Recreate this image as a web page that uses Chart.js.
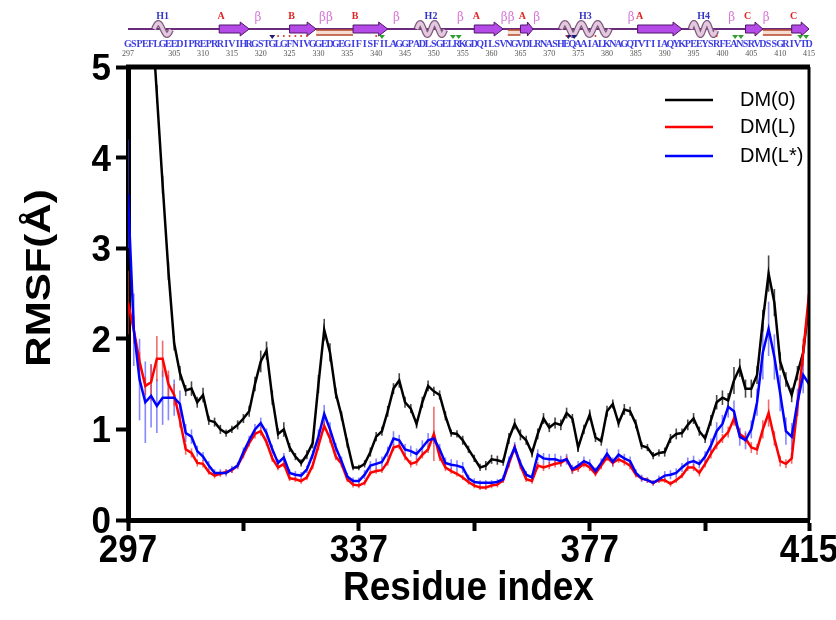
<!DOCTYPE html>
<html>
<head>
<meta charset="utf-8">
<script src="https://cdn.jsdelivr.net/npm/chart.js@4.4.0/dist/chart.umd.min.js"></script>
<style>
html, body { margin: 0; padding: 0; background: #fff; }
</style>
</head>
<body>
<canvas id="chartRmsf" width="836" height="620"></canvas>
<script>
// residuos 297..415
var residuos = [];
for (var r = 297; r <= 415; r++) residuos.push(r);

var xTicks = [297, 317, 337, 357, 377, 397, 415];
var xLabels = [297, 337, 377, 415];
var yTicks = [0, 1, 2, 3, 4, 5];

// RMSF DM(0)
var rmsf0 = [
  9.50, 8.60, 7.60, 6.70, 5.70, 4.70, 3.70, 2.75, 1.95, 1.62,
  1.43, 1.45, 1.30, 1.38, 1.10, 1.08, 1.00, 0.96, 1.00, 1.05,
  1.12, 1.20, 1.50, 1.75, 1.87, 1.35, 0.95, 1.00, 0.80, 0.70,
  0.63, 0.72, 0.85, 1.50, 2.10, 1.85, 1.40, 1.15, 0.85, 0.58,
  0.58, 0.62, 0.75, 0.92, 0.98, 1.20, 1.45, 1.54, 1.30, 1.23,
  1.06, 1.30, 1.48, 1.42, 1.38, 1.15, 0.96, 0.95, 0.88, 0.78,
  0.68, 0.58, 0.60, 0.67, 0.66, 0.64, 0.90, 1.06, 0.94, 0.88,
  0.74, 0.95, 1.12, 1.02, 1.07, 1.05, 1.18, 1.12, 0.80, 1.00,
  1.16, 0.91, 0.87, 1.20, 1.28, 1.07, 1.22, 1.20, 1.06, 0.82,
  0.80, 0.71, 0.74, 0.75, 0.90, 0.95, 0.96, 1.05, 1.12, 0.98,
  0.90, 1.10, 1.30, 1.35, 1.32, 1.54, 1.68, 1.45, 1.45, 1.60,
  2.20, 2.72, 2.40, 1.75, 1.55, 1.38, 1.62, 1.85, 2.40
];
var err0 = [
  0.15, 0.15, 0.15, 0.15, 0.15, 0.10, 0.10, 0.10, 0.08, 0.08,
  0.06, 0.08, 0.06, 0.08, 0.05, 0.05, 0.05, 0.04, 0.04, 0.05,
  0.05, 0.06, 0.08, 0.12, 0.10, 0.08, 0.06, 0.08, 0.05, 0.04,
  0.04, 0.05, 0.06, 0.10, 0.12, 0.10, 0.06, 0.05, 0.05, 0.03,
  0.03, 0.04, 0.05, 0.05, 0.05, 0.06, 0.06, 0.08, 0.06, 0.05,
  0.05, 0.06, 0.06, 0.05, 0.05, 0.05, 0.04, 0.04, 0.05, 0.04,
  0.04, 0.04, 0.05, 0.05, 0.05, 0.04, 0.06, 0.06, 0.06, 0.05,
  0.05, 0.06, 0.06, 0.05, 0.06, 0.06, 0.06, 0.05, 0.05, 0.05,
  0.06, 0.05, 0.05, 0.06, 0.05, 0.05, 0.06, 0.05, 0.05, 0.04,
  0.04, 0.04, 0.04, 0.05, 0.05, 0.06, 0.05, 0.06, 0.06, 0.05,
  0.05, 0.06, 0.08, 0.08, 0.08, 0.15, 0.10, 0.10, 0.10, 0.10,
  0.12, 0.20, 0.15, 0.10, 0.08, 0.08, 0.08, 0.08, 0.10
];

// RMSF DM(L)
var rmsfL = [
  2.40, 2.10, 1.75, 1.48, 1.52, 1.78, 1.78, 1.50, 1.38, 1.10,
  0.78, 0.74, 0.63, 0.62, 0.53, 0.49, 0.51, 0.53, 0.55, 0.60,
  0.72, 0.85, 0.95, 0.98, 0.86, 0.68, 0.58, 0.62, 0.46, 0.45,
  0.43, 0.47, 0.60, 0.82, 1.04, 0.90, 0.70, 0.62, 0.45, 0.39,
  0.38, 0.41, 0.52, 0.54, 0.55, 0.64, 0.80, 0.82, 0.70, 0.62,
  0.64, 0.72, 0.78, 0.95, 0.70, 0.58, 0.54, 0.51, 0.47, 0.42,
  0.38, 0.36, 0.36, 0.38, 0.39, 0.44, 0.62, 0.80, 0.60, 0.45,
  0.43, 0.60, 0.58, 0.60, 0.62, 0.63, 0.67, 0.55, 0.57, 0.62,
  0.58, 0.51, 0.60, 0.69, 0.63, 0.67, 0.64, 0.60, 0.50, 0.46,
  0.44, 0.41, 0.44, 0.44, 0.40, 0.44, 0.49, 0.58, 0.58, 0.52,
  0.62, 0.73, 0.83, 0.90, 0.97, 1.12, 0.95, 0.90, 0.80, 0.78,
  1.00, 1.18, 0.90, 0.65, 0.62, 0.68, 1.25, 1.85, 2.50
];
var errL = [
  0.35, 0.15, 0.10, 0.10, 0.20, 0.25, 0.20, 0.15, 0.12, 0.08,
  0.06, 0.05, 0.04, 0.04, 0.03, 0.03, 0.03, 0.03, 0.03, 0.03,
  0.04, 0.04, 0.05, 0.05, 0.04, 0.04, 0.03, 0.04, 0.03, 0.03,
  0.03, 0.03, 0.04, 0.05, 0.05, 0.05, 0.04, 0.04, 0.03, 0.03,
  0.03, 0.03, 0.03, 0.03, 0.03, 0.04, 0.04, 0.04, 0.04, 0.04,
  0.04, 0.04, 0.04, 0.30, 0.05, 0.04, 0.03, 0.03, 0.03, 0.03,
  0.03, 0.03, 0.03, 0.03, 0.03, 0.03, 0.04, 0.04, 0.04, 0.03,
  0.03, 0.04, 0.04, 0.04, 0.04, 0.04, 0.04, 0.04, 0.04, 0.04,
  0.04, 0.03, 0.04, 0.04, 0.04, 0.04, 0.04, 0.04, 0.03, 0.03,
  0.03, 0.03, 0.03, 0.03, 0.03, 0.03, 0.03, 0.04, 0.04, 0.04,
  0.04, 0.05, 0.05, 0.05, 0.06, 0.08, 0.06, 0.06, 0.06, 0.06,
  0.10, 0.15, 0.08, 0.06, 0.05, 0.06, 0.10, 0.15, 0.25
];

// RMSF DM(L*)
var rmsfLs = [
  3.60, 2.10, 1.55, 1.30, 1.37, 1.26, 1.35, 1.35, 1.35, 1.28,
  0.96, 0.92, 0.76, 0.70, 0.60, 0.52, 0.52, 0.52, 0.56, 0.60,
  0.75, 0.88, 1.00, 1.07, 0.96, 0.78, 0.63, 0.69, 0.52, 0.50,
  0.49, 0.56, 0.72, 0.92, 1.17, 1.00, 0.80, 0.65, 0.48, 0.43,
  0.43, 0.50, 0.60, 0.62, 0.64, 0.75, 0.90, 0.88, 0.78, 0.76,
  0.73, 0.80, 0.88, 0.90, 0.78, 0.63, 0.61, 0.60, 0.58, 0.46,
  0.42, 0.41, 0.41, 0.41, 0.42, 0.45, 0.65, 0.80, 0.62, 0.50,
  0.47, 0.72, 0.68, 0.67, 0.67, 0.65, 0.67, 0.56, 0.60, 0.65,
  0.62, 0.54, 0.63, 0.73, 0.64, 0.72, 0.68, 0.65, 0.52, 0.46,
  0.44, 0.41, 0.45, 0.49, 0.50, 0.52, 0.58, 0.63, 0.65, 0.62,
  0.70, 0.82, 0.98, 1.06, 1.25, 1.20, 0.92, 0.88, 1.00, 1.30,
  1.85, 2.11, 1.80, 1.40, 0.98, 0.92, 1.30, 1.60, 1.50
];
var errLs = [
  0.60, 0.40, 0.45, 0.45, 0.35, 0.30, 0.30, 0.25, 0.20, 0.15,
  0.10, 0.08, 0.06, 0.05, 0.05, 0.04, 0.04, 0.04, 0.04, 0.04,
  0.05, 0.05, 0.06, 0.06, 0.05, 0.05, 0.04, 0.05, 0.04, 0.04,
  0.04, 0.04, 0.05, 0.08, 0.10, 0.08, 0.05, 0.05, 0.04, 0.04,
  0.04, 0.05, 0.05, 0.06, 0.06, 0.06, 0.08, 0.06, 0.06, 0.06,
  0.06, 0.08, 0.08, 0.06, 0.06, 0.06, 0.06, 0.06, 0.06, 0.04,
  0.04, 0.03, 0.03, 0.03, 0.03, 0.04, 0.05, 0.06, 0.05, 0.04,
  0.04, 0.06, 0.06, 0.06, 0.06, 0.06, 0.06, 0.05, 0.05, 0.05,
  0.05, 0.04, 0.05, 0.06, 0.05, 0.06, 0.05, 0.05, 0.04, 0.04,
  0.03, 0.03, 0.04, 0.05, 0.05, 0.05, 0.05, 0.06, 0.06, 0.05,
  0.06, 0.08, 0.10, 0.10, 0.12, 0.12, 0.10, 0.10, 0.10, 0.15,
  0.30, 0.30, 0.25, 0.20, 0.15, 0.15, 0.15, 0.20, 0.20
];

// estructura secundaria (cabecera)
var secuencia = "GSPEFLGEEDIPREPRRIVIHRGSTGLGFNIVGGEDGEGIFISFILAGGPADLSGELRKGDQILSVNGVDLRNASHEQAAIALKNAGQTVTIIAQYKPEEYSRFEANSRVDSSGRIVTD";
var numerosSecuencia = [297, 305, 310, 315, 320, 325, 330, 335, 340, 345, 350, 355, 360, 365, 370, 375, 380, 385, 390, 395, 400, 405, 410, 415];
var helices = [[301.5, 304.5, 'H1'], [347, 352, 'H2'], [372, 380.5, 'H3'], [394.5, 399, 'H4']];
var hebras = [[312.8, 318, 'A'], [325, 329.6, 'B'], [336, 342, 'B'], [357, 362, 'A'], [365, 367.2, 'A'], [385.3, 393, 'A'], [404, 407, 'C'], [412, 415, 'C']];
var puentes = [[329.6, 336], [362.8, 365], [407, 412]];
var betas = [[319.5, 'β'], [331.3, 'ββ'], [343.5, 'β'], [354.6, 'β'], [362.8, 'ββ'], [367.8, 'β'], [384.2, 'β'], [401.6, 'β'], [407.6, 'β']];
var marcas = [[322, '#1c1c7a'], [341, '#2e9e2e'], [353.3, '#2e9e2e'], [354.3, '#2e9e2e'], [373.3, '#1c1c7a'], [374.3, '#1c1c7a'], [402.2, '#2e9e2e'], [403.2, '#2e9e2e'], [413.5, '#2e9e2e'], [414.5, '#2e9e2e']];
var puntosRojos = [323, 324, 325, 326, 327, 328, 340, 373, 378, 399];

var FUENTE = '"Liberation Sans", Arial, sans-serif';

function serie(valores) {
    return residuos.map(function (res, i) { return { x: res, y: valores[i] }; });
}

// texto estirado en vertical, como en la figura original
function textoEstirado(ctx, texto, x, y, tam, estiramiento, alinear, girar) {
    ctx.save();
    ctx.translate(x, y);
    if (girar) {
        ctx.rotate(-Math.PI / 2);
        ctx.scale(estiramiento, 1);
    } else {
        ctx.scale(1, estiramiento);
    }
    ctx.font = 'bold ' + tam + 'px ' + FUENTE;
    ctx.fillStyle = '#000';
    ctx.textAlign = alinear;
    ctx.textBaseline = 'alphabetic';
    ctx.fillText(texto, 0, 0);
    ctx.restore();
}

var errorBarsPlugin = {
    id: 'errorBars',
    beforeDatasetsDraw: function (chart) {
        var ctx = chart.ctx, area = chart.chartArea;
        var xs = chart.scales.x, ys = chart.scales.y;
        ctx.save();
        ctx.beginPath();
        ctx.rect(area.left, area.top, area.right - area.left, area.bottom - area.top);
        ctx.clip();
        chart.data.datasets.slice().reverse().forEach(function (ds) {
            ctx.strokeStyle = ds.errorColor;
            ctx.lineWidth = 1.6;
            ds.errores.forEach(function (e, i) {
                var v = ds.data[i].y;
                var px = xs.getPixelForValue(ds.data[i].x);
                ctx.beginPath();
                ctx.moveTo(px, ys.getPixelForValue(v - e));
                ctx.lineTo(px, ys.getPixelForValue(v + e));
                ctx.stroke();
            });
        });
        ctx.restore();
    }
};

var marcoPlugin = {
    id: 'marco',
    afterDraw: function (chart) {
        var ctx = chart.ctx, area = chart.chartArea;
        var xs = chart.scales.x, ys = chart.scales.y;
        ctx.save();
        // marco superior y derecho
        ctx.strokeStyle = '#000';
        ctx.lineWidth = 5;
        ctx.beginPath();
        ctx.moveTo(area.left - 2, area.top);
        ctx.lineTo(area.right + 1, area.top);
        ctx.stroke();
        ctx.lineWidth = 3;
        ctx.beginPath();
        ctx.moveTo(area.right, area.top);
        ctx.lineTo(area.right, area.bottom);
        ctx.stroke();

        // etiquetas de los ejes
        xLabels.forEach(function (v) {
            textoEstirado(ctx, String(v), xs.getPixelForValue(v), 562, 35, 1.12, 'center');
        });
        yTicks.forEach(function (v) {
            textoEstirado(ctx, String(v), 111, ys.getPixelForValue(v) + 13, 35, 1.05, 'right');
        });
        textoEstirado(ctx, 'Residue index', (area.left + area.right) / 2, 600, 37, 1.1, 'center');
        textoEstirado(ctx, 'RMSF(Å)', 50, 278, 35, 1.2, 'center', true);

        // leyenda
        var ly = [100, 127, 156];
        chart.data.datasets.forEach(function (ds, i) {
            ctx.strokeStyle = ds.borderColor;
            ctx.lineWidth = 2.5;
            ctx.beginPath();
            ctx.moveTo(665, ly[i]);
            ctx.lineTo(713, ly[i]);
            ctx.stroke();
            ctx.fillStyle = '#000';
            ctx.font = '20px ' + FUENTE;
            ctx.textAlign = 'left';
            ctx.textBaseline = 'middle';
            ctx.fillText(ds.label, 740, ly[i]);
        });

        // cabecera de estructura secundaria
        var yb = 29;
        ctx.strokeStyle = '#6b2b7d';
        ctx.lineWidth = 2;
        ctx.beginPath();
        ctx.moveTo(xs.getPixelForValue(297), yb);
        ctx.lineTo(xs.getPixelForValue(415), yb);
        ctx.stroke();

        puentes.forEach(function (p) {
            var x1 = xs.getPixelForValue(p[0]), x2 = xs.getPixelForValue(p[1]);
            ctx.fillStyle = '#f6ddd2';
            ctx.fillRect(x1, yb + 1, x2 - x1, 5);
            ctx.strokeStyle = '#b5482a';
            ctx.lineWidth = 1.3;
            ctx.beginPath();
            ctx.moveTo(x1, yb + 1); ctx.lineTo(x2, yb + 1);
            ctx.moveTo(x1, yb + 6); ctx.lineTo(x2, yb + 6);
            ctx.stroke();
        });

        hebras.forEach(function (h) {
            var x1 = xs.getPixelForValue(h[0]), x2 = xs.getPixelForValue(h[1]);
            var cab = Math.min(9, (x2 - x1) * 0.45);
            ctx.fillStyle = '#b44ae8';
            ctx.strokeStyle = '#4e1466';
            ctx.lineWidth = 1;
            ctx.beginPath();
            ctx.moveTo(x1, yb - 4);
            ctx.lineTo(x2 - cab, yb - 4);
            ctx.lineTo(x2 - cab, yb - 7);
            ctx.lineTo(x2, yb);
            ctx.lineTo(x2 - cab, yb + 7);
            ctx.lineTo(x2 - cab, yb + 4);
            ctx.lineTo(x1, yb + 4);
            ctx.closePath();
            ctx.fill();
            ctx.stroke();
            ctx.fillStyle = '#e02222';
            ctx.font = 'bold 10px "Liberation Serif", serif';
            ctx.textAlign = 'center';
            ctx.textBaseline = 'middle';
            ctx.fillText(h[2], x1 + 2, 16);
        });

        helices.forEach(function (h) {
            var x1 = xs.getPixelForValue(h[0]), x2 = xs.getPixelForValue(h[1]);
            var vueltas = Math.max(1, Math.round((x2 - x1) / 15));
            var periodo = (x2 - x1) / vueltas;
            [['#7d5a7b', 6], ['#e3c8df', 3.5]].forEach(function (estilo) {
                ctx.strokeStyle = estilo[0];
                ctx.lineWidth = estilo[1];
                ctx.beginPath();
                for (var px = x1; px <= x2; px += 0.5) {
                    var py = yb - 6 * Math.sin(2 * Math.PI * (px - x1) / periodo);
                    if (px === x1) ctx.moveTo(px, py); else ctx.lineTo(px, py);
                }
                ctx.stroke();
            });
            ctx.fillStyle = '#3434c4';
            ctx.font = 'bold 10px "Liberation Serif", serif';
            ctx.textAlign = 'center';
            ctx.textBaseline = 'middle';
            ctx.fillText(h[2], (x1 + x2) / 2, 16);
        });

        betas.forEach(function (b) {
            ctx.fillStyle = '#d67ad8';
            ctx.font = '12px "DejaVu Serif", serif';
            ctx.textAlign = 'center';
            ctx.textBaseline = 'middle';
            ctx.fillText(b[1], xs.getPixelForValue(b[0]), 18);
        });

        marcas.forEach(function (m) {
            var px = xs.getPixelForValue(m[0]);
            ctx.fillStyle = m[1];
            ctx.beginPath();
            ctx.moveTo(px - 3, 35);
            ctx.lineTo(px + 3, 35);
            ctx.lineTo(px, 39);
            ctx.closePath();
            ctx.fill();
        });
        puntosRojos.forEach(function (p) {
            ctx.fillStyle = '#d83a2a';
            ctx.beginPath();
            ctx.arc(xs.getPixelForValue(p), 36, 1, 0, 2 * Math.PI);
            ctx.fill();
        });

        ctx.fillStyle = '#3d3de0';
        ctx.font = 'bold 10px "Liberation Serif", serif';
        ctx.textAlign = 'center';
        ctx.textBaseline = 'middle';
        for (var i = 0; i < secuencia.length; i++) {
            ctx.fillText(secuencia[i], xs.getPixelForValue(297 + i), 44);
        }
        ctx.fillStyle = '#555';
        ctx.font = '8px "Liberation Serif", serif';
        numerosSecuencia.forEach(function (n) {
            ctx.fillText(String(n), xs.getPixelForValue(n), 54);
        });
        ctx.restore();
    }
};

var ctxRmsf = document.getElementById('chartRmsf');

var graficoRmsf = new Chart(ctxRmsf, {
    type: 'line',
    data: {
        datasets: [
            {
                label: 'DM(0)',
                data: serie(rmsf0),
                errores: err0,
                errorColor: 'rgba(40, 40, 40, 0.85)',
                borderColor: '#000000',
                borderWidth: 2.5,
                pointRadius: 0,
                order: 3
            },
            {
                label: 'DM(L)',
                data: serie(rmsfL),
                errores: errL,
                errorColor: 'rgba(235, 60, 60, 0.75)',
                borderColor: '#ff0000',
                borderWidth: 2.5,
                pointRadius: 0,
                order: 2
            },
            {
                label: 'DM(L*)',
                data: serie(rmsfLs),
                errores: errLs,
                errorColor: 'rgba(70, 70, 255, 0.65)',
                borderColor: '#0000ff',
                borderWidth: 2.5,
                pointRadius: 0,
                order: 1
            }
        ]
    },
    options: {
        responsive: false,
        animation: false,
        layout: { padding: { top: 67, right: 27, left: 0, bottom: 0 } },
        plugins: {
            legend: { display: false },
            tooltip: { enabled: false }
        },
        scales: {
            x: {
                type: 'linear',
                min: 297,
                max: 415,
                afterBuildTicks: function (scale) {
                    scale.ticks = xTicks.map(function (v) { return { value: v }; });
                },
                afterFit: function (scale) {
                    scale.height = 100;
                    scale.paddingLeft = 0;
                    scale.paddingRight = 0;
                },
                ticks: { display: false, autoSkip: false },
                grid: { drawOnChartArea: false, drawTicks: true, tickLength: 11, tickWidth: 4, tickColor: '#000' },
                border: { display: true, color: '#000', width: 5 },
                title: { display: false }
            },
            y: {
                min: 0,
                max: 5,
                afterFit: function (scale) {
                    scale.width = 128;
                },
                ticks: { display: false, stepSize: 1 },
                grid: { drawOnChartArea: false, drawTicks: true, tickLength: 12, tickWidth: 4, tickColor: '#000' },
                border: { display: true, color: '#000', width: 5 },
                title: { display: false }
            }
        }
    },
    plugins: [errorBarsPlugin, marcoPlugin]
});
</script>
</body>
</html>
